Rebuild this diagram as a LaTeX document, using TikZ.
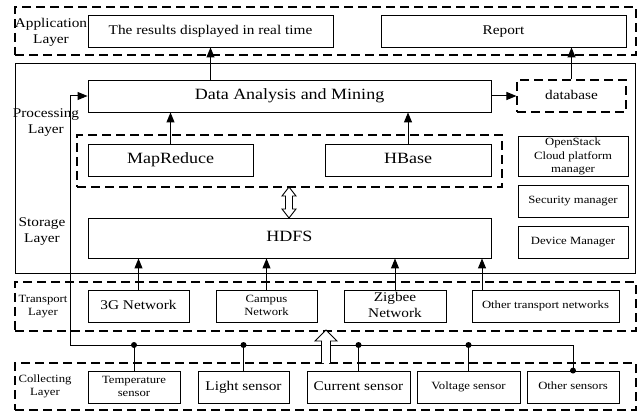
\documentclass[tikz,border=0pt]{standalone}
\usepackage{fontspec}
\setmainfont{Liberation Serif}
\usepackage{graphicx}
\usetikzlibrary{arrows.meta}
\newcommand\fS{\fontsize{12.7}{15.2}\selectfont}
\newcommand\fM{\fontsize{15.3}{18.4}\selectfont}
\newcommand\fL{\fontsize{18}{21.6}\selectfont}
\newcommand\tx[2]{\scalebox{1}[0.87]{#1\begin{tabular}{@{}c@{}}#2\end{tabular}}}
\tikzset{
  box/.style={draw, line width=0.9pt, inner sep=0pt, rectangle},
  dbox/.style={draw, line width=1.1pt, dash pattern=on 9pt off 5pt, inner sep=0pt, rectangle},
  lbl/.style={inner sep=0pt},
  arr/.style={line width=1pt, -{Triangle[length=10pt,width=8pt]}},
  ln/.style={line width=1pt},
  hollow/.style={draw, line width=0.9pt, fill=white},
  dot/.style={circle, fill=black, inner sep=0pt, minimum size=6pt},
}
\begin{document}
\begin{tikzpicture}[x=1pt,y=-1pt]
\useasboundingbox (0,0) rectangle (639,411);
% layer frames
\node[dbox, minimum width=621, minimum height=48] (appL) at (325.5,31) {};
\node[box, minimum width=620, minimum height=210] (procL) at (325,168) {};
\node[dbox, minimum width=621, minimum height=49] (trL) at (325.5,306.5) {};
\node[dbox, minimum width=621, minimum height=47] (colL) at (325.5,386.5) {};
% layer labels
\node[lbl] (appT) at (51,32) {\tx{\fM}{Application\\Layer}};
\node[lbl] (procT) at (46,122) {\tx{\fM}{Processing\\Layer}};
\node[lbl] (stoT) at (42,231) {\tx{\fM}{Storage\\Layer}};
\node[lbl] (trT) at (43,306) {\tx{\fS}{Transport\\Layer}};
\node[lbl] (colT) at (45,386) {\tx{\fS}{Collecting\\Layer}};
% application
\node[box, minimum width=245, minimum height=32] (res) at (210.5,31) {\tx{\fM}{The results displayed in real time}};
\node[box, minimum width=245, minimum height=32] (rep) at (503.5,31) {\tx{\fM}{Report}};
% processing
\node[box, minimum width=403, minimum height=32] (da) at (289.5,96) {\tx{\fL}{Data Analysis and Mining}};
\node[dbox, minimum width=109, minimum height=32] (db) at (571.5,96) {\tx{\fM}{database}};
\node[dbox, minimum width=425, minimum height=52] (grp) at (289.5,161) {};
\node[box, minimum width=165, minimum height=32] (mr) at (170.5,160) {\tx{\fL}{MapReduce}};
\node[box, minimum width=166, minimum height=32] (hb) at (408,160) {\tx{\fL}{HBase}};
\node[box, minimum width=110, minimum height=39] (os) at (573,156.5) {\tx{\fS}{OpenStack\\Cloud platform\\manager}};
\node[box, minimum width=110, minimum height=32] (sec) at (573,201) {\tx{\fS}{Security manager}};
\node[box, minimum width=110, minimum height=32] (dev) at (573,242) {\tx{\fS}{Device Manager}};
\node[box, minimum width=403, minimum height=40] (hdfs) at (289.5,238) {\tx{\fL}{HDFS}};
% transport
\node[box, minimum width=101, minimum height=32] (g3) at (138.5,306) {\tx{\fM}{3G Network}};
\node[box, minimum width=101, minimum height=32] (cam) at (266.5,306) {\tx{\fS}{Campus\\Network}};
\node[box, minimum width=102, minimum height=32] (zig) at (395,306) {\tx{\fM}{Zigbee\\Network}};
\node[box, minimum width=147, minimum height=32] (oth) at (545.5,306) {\tx{\fS}{Other transport networks}};
% collecting
\node[box, minimum width=92, minimum height=32] (tmp) at (134,387) {\tx{\fS}{Temperature\\sensor}};
\node[box, minimum width=91, minimum height=32] (lig) at (243.5,387) {\tx{\fM}{Light sensor}};
\node[box, minimum width=103, minimum height=32] (cur) at (358.5,387) {\tx{\fM}{Current sensor}};
\node[box, minimum width=103, minimum height=32] (vol) at (468.5,387) {\tx{\fS}{Voltage sensor}};
\node[box, minimum width=92, minimum height=32] (osn) at (573,387) {\tx{\fS}{Other sensors}};
% arrows
\draw[arr] (da.north -| res.south) -- (res.south);
\draw[arr] (db.north) -- (db.north |- rep.south);
\draw[arr] (da.east) -- (db.west);
\draw[arr] (mr.north) -- (mr.north |- da.south);
\draw[arr] (hb.north) -- (hb.north |- da.south);
\draw[arr] (g3.north) -- (g3.north |- hdfs.south);
\draw[arr] (cam.north) -- (cam.north |- hdfs.south);
\draw[arr] (zig.north) -- (zig.north |- hdfs.south);
\coordinate (othx) at (482,290);
\draw[arr] (othx) -- (othx |- hdfs.south);
% bus
\coordinate (busL) at (70,345);
\coordinate (busR) at (573,345);
\draw[ln] (busR) -- (busL);
\draw[arr] (busL) |- (da.west);
\draw[ln] (busR) -- (osn.north);
\foreach \s in {tmp,lig,cur,vol}{
  \draw[ln] (\s.north) -- (\s.north |- busL);
  \node[dot] at (\s.north |- busL) {};
}
\node[dot] at (osn.north) {};
% hollow arrows
\draw[hollow] (321.5,363) -- (321.5,341) -- (315,341) -- (326,330) -- (337,341) -- (330.5,341) -- (330.5,363);
\draw[hollow] (289,187) -- (296,196) -- (292.5,196) -- (292.5,209) -- (296,209) -- (289,218) -- (282,209) -- (285.5,209) -- (285.5,196) -- (282,196) -- cycle;
\end{tikzpicture}
\end{document}
